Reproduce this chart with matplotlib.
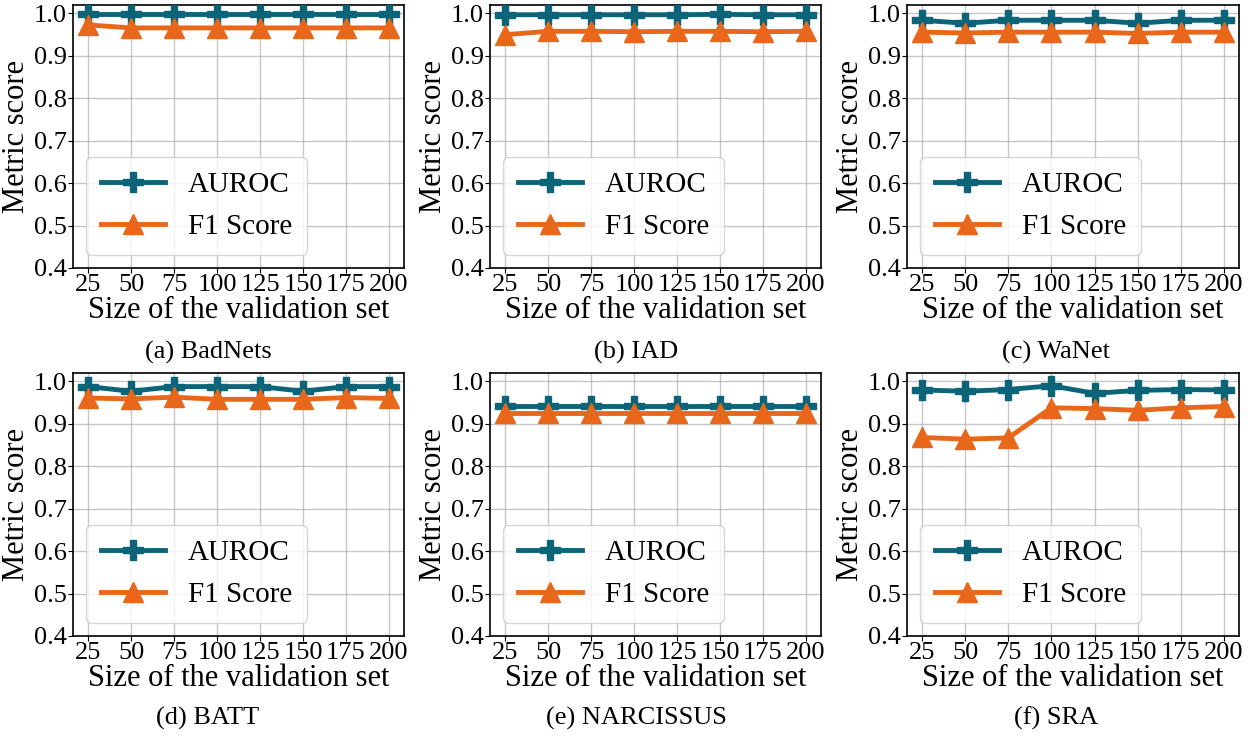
import matplotlib
matplotlib.use("Agg")
import matplotlib.pyplot as plt

plt.rcParams['font.family'] = ['Liberation Serif', 'DejaVu Serif']
plt.rcParams['mathtext.fontset'] = 'stix'

sizes = [25, 50, 75, 100, 125, 150, 175, 200]
xtick_labels = ['25', '50', '75', '100', '125', '150', '175', '200']
yticks = [0.4, 0.5, 0.6, 0.7, 0.8, 0.9, 1.0]

captions = ['(a) BadNets', '(b) IAD', '(c) WaNet', '(d) BATT', '(e) NARCISSUS', '(f) SRA']

auroc_badnets = [0.999, 0.999, 0.999, 0.999, 0.999, 0.999, 0.999, 0.999]
f1_badnets = [0.973, 0.966, 0.966, 0.966, 0.966, 0.966, 0.966, 0.966]

auroc_iad = [0.997, 0.997, 0.997, 0.997, 0.997, 0.998, 0.997, 0.997]
f1_iad = [0.950, 0.958, 0.958, 0.957, 0.958, 0.958, 0.957, 0.958]

auroc_wanet = [0.984, 0.977, 0.984, 0.984, 0.984, 0.977, 0.984, 0.984]
f1_wanet = [0.956, 0.954, 0.956, 0.956, 0.956, 0.953, 0.956, 0.956]

auroc_batt = [0.988, 0.977, 0.988, 0.988, 0.988, 0.977, 0.988, 0.988]
f1_batt = [0.961, 0.959, 0.963, 0.958, 0.958, 0.958, 0.962, 0.960]

auroc_narcissus = [0.942, 0.942, 0.942, 0.942, 0.942, 0.942, 0.942, 0.942]
f1_narcissus = [0.926, 0.926, 0.926, 0.926, 0.926, 0.926, 0.926, 0.926]

auroc_sra = [0.980, 0.977, 0.981, 0.990, 0.972, 0.979, 0.981, 0.980]
f1_sra = [0.868, 0.864, 0.867, 0.938, 0.936, 0.932, 0.938, 0.941]

aurocs = [auroc_badnets, auroc_iad, auroc_wanet, auroc_batt, auroc_narcissus, auroc_sra]
f1s = [f1_badnets, f1_iad, f1_wanet, f1_batt, f1_narcissus, f1_sra]

TEAL = '#0b6477'
ORANGE = '#e8671a'

W, H = 1250, 736
fig = plt.figure(figsize=(W / 100, H / 100), dpi=100)

cols = [(73, 404), (490, 821), (907, 1239)]
rows = [(5, 268), (373, 636)]
cap_x = [208, 636, 1056]
cap_y = [352, 718]

for i in range(6):
    r, c = divmod(i, 3)
    x0, x1 = cols[c]
    y0, y1 = rows[r]
    ax = fig.add_axes([x0 / W, 1 - y1 / H, (x1 - x0) / W, (y1 - y0) / H])
    ax.plot(sizes, aurocs[i], color=TEAL, lw=3.5, marker='P', ms=14,
            label='AUROC', zorder=3)
    ax.plot(sizes, f1s[i], color=ORANGE, lw=3.5, marker='^', ms=14,
            label='F1 Score', zorder=3)
    ax.set_ylim(0.4, 1.02)
    ax.set_yticks(yticks)
    ax.set_yticklabels(['0.4', '0.5', '0.6', '0.7', '0.8', '0.9', '1.0'])
    ax.set_xticks(sizes)
    ax.set_xticklabels(xtick_labels)
    ax.tick_params(labelsize=19, pad=1)
    ax.grid(True, color='#b0b0b0', lw=1.0, alpha=0.7)
    ax.set_axisbelow(True)
    ax.set_xlabel('Size of the validation set', fontsize=22, labelpad=0)
    ax.set_ylabel('Metric score', fontsize=22, labelpad=2)
    for s in ax.spines.values():
        s.set_linewidth(1.2)
    ax.legend(loc='lower left', fontsize=21, handlelength=2.2,
              borderaxespad=0.45, framealpha=0.8, borderpad=0.5,
              labelspacing=0.55, handletextpad=0.8)
    fig.text(cap_x[c] / W, 1 - cap_y[r] / H, captions[i],
             ha='center', va='center', fontsize=19)

fig.savefig('out.png', dpi=100)
